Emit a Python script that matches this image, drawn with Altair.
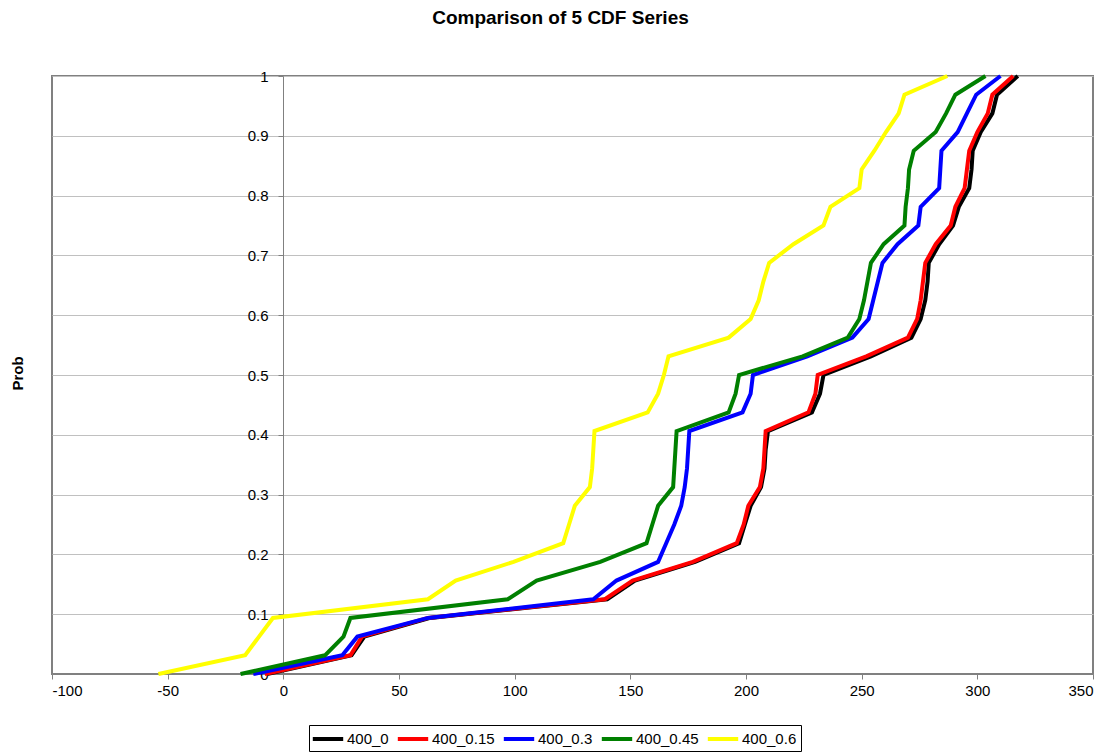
import altair as alt
import pandas as pd

FONT = "Liberation Sans"

probs = [0, 0.03125, 0.0625, 0.09375, 0.125, 0.15625, 0.1875, 0.21875, 0.25,
         0.28125, 0.3125, 0.34375, 0.375, 0.40625, 0.4375, 0.46875, 0.5,
         0.53125, 0.5625, 0.59375, 0.625, 0.65625, 0.6875, 0.71875, 0.75,
         0.78125, 0.8125, 0.84375, 0.875, 0.90625, 0.9375, 0.96875, 1.0]

series_names = ["400_0", "400_0.15", "400_0.3", "400_0.45", "400_0.6"]
series_colors = ["#000000", "#FF0000", "#0000FF", "#008000", "#FFFF00"]

s_400_0 = [-7, 29.5, 35, 63.5, 140, 152, 178, 197, 199.5, 202, 206.5, 208, 208.5,
           209.5, 228.5, 232, 233.5, 254, 271.5, 275.5, 277.5, 278.5, 279, 283.5,
           289.5, 292, 296.5, 297.5, 298, 301.5, 306.5, 308.5, 317.5]
s_400_015 = [-8, 29, 34, 62.5, 139, 151, 177, 196, 199, 201, 206, 207.5, 208,
             208.5, 227, 230, 231, 252, 270, 274, 275.5, 276.5, 277.5, 282,
             288.5, 290.5, 294.5, 295.5, 296.5, 300, 304.5, 306.5, 315.5]
s_400_03 = [-13, 25.5, 32, 62.5, 134, 144, 162, 165.5, 169, 172, 173.5, 174.5, 175,
            175.5, 198.5, 202, 203, 226.5, 246, 253, 255, 257, 259, 265.5,
            274.5, 275.5, 283.5, 284, 284.5, 291.5, 295.5, 299.5, 310]
s_400_045 = [-18.5, 18, 26, 29, 97, 109.5, 137, 157, 159.5, 162, 168.5, 169, 169.5,
             170, 192.5, 195.5, 197, 224.5, 244, 249, 251, 252.5, 254, 259.5,
             268.5, 269, 270, 270.5, 272.5, 282, 286.5, 290.5, 303.5]
s_400_06 = [-54, -16.5, -10.5, -4.5, 62.5, 74.5, 99.5, 121, 123.5, 126, 132.5, 133.5,
            134, 134.5, 157.5, 162, 164.5, 166.5, 192.5, 202, 205.5, 207.5, 210,
            220.5, 233.5, 236.5, 249, 250, 255.5, 260.5, 266, 268.5, 287]

x_ticks = [-100, -50, 0, 50, 100, 150, 200, 250, 300, 350]
y_ticks = [0, 0.1, 0.2, 0.3, 0.4, 0.5, 0.6, 0.7, 0.8, 0.9, 1]

all_series = [s_400_0, s_400_015, s_400_03, s_400_045, s_400_06]
rows = []
for name, vals in zip(series_names, all_series):
    for p, v in zip(probs, vals):
        rows.append({"series": name, "prob": p, "value": v})
df = pd.DataFrame(rows)

chart = alt.Chart(df).mark_line(strokeWidth=4).encode(
    x=alt.X("value:Q",
            scale=alt.Scale(domain=[-100, 350], nice=False, zero=False),
            axis=alt.Axis(values=x_ticks, title=None, grid=False,
                          labelExpr="'' + datum.value",
                          tickSize=5, labelPadding=4,
                          domainColor="#808080", tickColor="#808080",
                          labelFontSize=15, labelFont=FONT, labelColor="#000000")),
    y=alt.Y("prob:Q",
            scale=alt.Scale(domain=[0, 1], nice=False),
            axis=alt.Axis(values=y_ticks, title="Prob", offset=-231,
                          grid=True, gridColor="#c0c0c0", gridWidth=1,
                          labelExpr="'' + datum.value",
                          tickSize=5, labelPadding=10,
                          domainColor="#808080", tickColor="#808080",
                          labelFontSize=15, labelFont=FONT, labelColor="#000000",
                          titleFont=FONT, titleFontSize=15, titleFontWeight="bold",
                          titleColor="#000000", titleX=-266, titleY=297,
                          titleAngle=270, titleAlign="center", titleBaseline="middle")),
    color=alt.Color("series:N",
                    scale=alt.Scale(domain=series_names, range=series_colors),
                    legend=alt.Legend(title=None, orient="none", legendX=257, legendY=649,
                                      direction="horizontal",
                                      symbolType="M-1.9,0L1.9,0",
                                      symbolSize=256, symbolStrokeWidth=4,
                                      symbolOffset=5, labelOffset=9,
                                      labelFontSize=15, labelFont=FONT,
                                      labelColor="#000000",
                                      columnPadding=0, padding=4,
                                      strokeColor="#000000", fillColor="#ffffff")),
    order=alt.Order("prob:Q"),
).properties(
    width=1041,
    height=598,
    title=alt.Title("Comparison of 5 CDF Series", fontSize=19, font=FONT,
                    fontWeight="bold", color="#000000", anchor="middle",
                    frame="group", dx=-12, offset=40),
    autosize=alt.AutoSizeParams(type="none"),
    padding={"left": 44, "top": 68, "right": 12, "bottom": 80},
).configure_view(stroke="#808080", strokeWidth=2)

chart.save("out.html", embed_options={"renderer": "svg", "actions": False})
